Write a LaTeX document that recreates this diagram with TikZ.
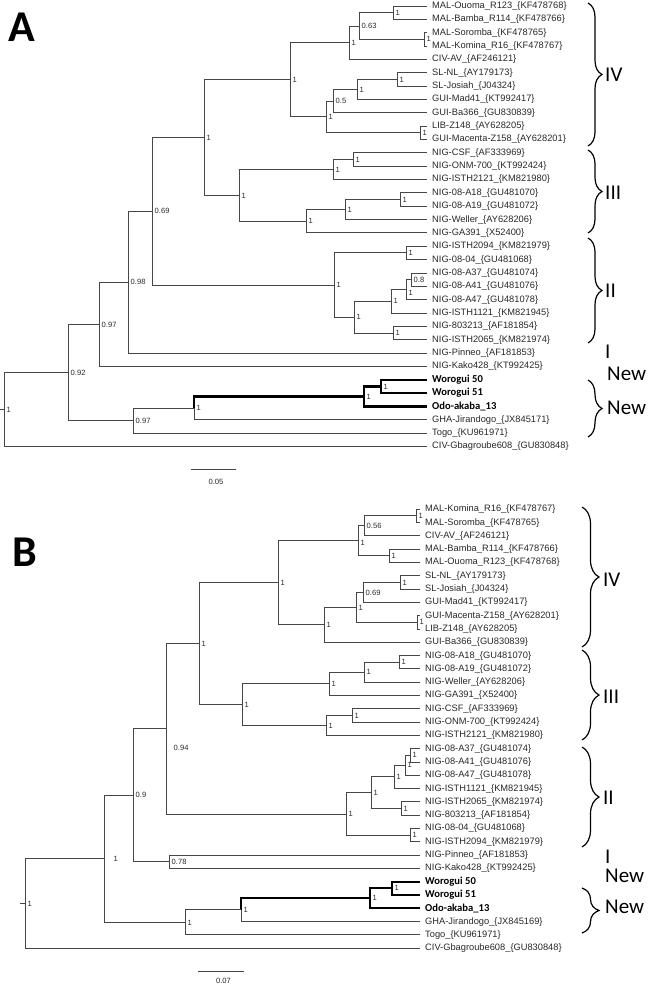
\documentclass[tikz,border=0pt]{standalone}
\usepackage{fontspec}
\setmainfont{Liberation Sans}
\newfontfamily\carlito{Carlito}
\usetikzlibrary{decorations.pathreplacing}
\definecolor{branchgray}{RGB}{70,70,70}
\definecolor{textgray}{RGB}{40,40,40}

\begin{document}
\begin{tikzpicture}[
    x=1pt, y=-1pt,
    branch/.style={draw=branchgray,line width=1pt},
    boldbranch/.style={draw=black,line width=2.1pt},
    leaf/.style={anchor=west,inner xsep=5pt,inner ysep=0pt,text=textgray,font=\fontsize{9.3}{10}\selectfont},
    newleaf/.style={leaf,text=black,font=\carlito\bfseries\fontsize{10.6}{11}\selectfont},
    sup/.style={anchor=west,inner sep=0pt,xshift=2.5pt,text=textgray,font=\fontsize{7.6}{8}\selectfont},
    clade/.style={decorate,decoration={brace,amplitude=#1},line width=1.2pt},
    cladename/.style={anchor=west,inner sep=0pt,font=\carlito\fontsize{21}{22}\selectfont},
    panel/.style={font=\carlito\bfseries\fontsize{44}{45}\selectfont}
]
    \useasboundingbox (0,0) rectangle (650,985);

    % Panel letters
    \node[panel] (A) at (22,27) {A};
    \node[panel] (B) at (25,552) {B};

    %%%%%%%%%%%%%%%%%%%%%%%%%%%%%%%%%%%% Panel A
    \begin{scope}[y=-13.35pt,yshift=-6pt]
    % Tips
    \node[leaf] (a0) at (427,0) {MAL-Ouoma\_R123\_\{KF478768\}};
    \node[leaf] (a1) at (427,1) {MAL-Bamba\_R114\_\{KF478766\}};
    \node[leaf] (a2) at (427,2) {MAL-Soromba\_\{KF478765\}};
    \node[leaf] (a3) at (427,3) {MAL-Komina\_R16\_\{KF478767\}};
    \node[leaf] (a4) at (427,4) {CIV-AV\_\{AF246121\}};
    \node[leaf] (a5) at (427,5) {SL-NL\_\{AY179173\}};
    \node[leaf] (a6) at (427,6) {SL-Josiah\_\{J04324\}};
    \node[leaf] (a7) at (427,7) {GUI-Mad41\_\{KT992417\}};
    \node[leaf] (a8) at (427,8) {GUI-Ba366\_\{GU830839\}};
    \node[leaf] (a9) at (427,9) {LIB-Z148\_\{AY628205\}};
    \node[leaf] (a10) at (427,10) {GUI-Macenta-Z158\_\{AY628201\}};
    \node[leaf] (a11) at (427,11) {NIG-CSF\_\{AF333969\}};
    \node[leaf] (a12) at (427,12) {NIG-ONM-700\_\{KT992424\}};
    \node[leaf] (a13) at (427,13) {NIG-ISTH2121\_\{KM821980\}};
    \node[leaf] (a14) at (427,14) {NIG-08-A18\_\{GU481070\}};
    \node[leaf] (a15) at (427,15) {NIG-08-A19\_\{GU481072\}};
    \node[leaf] (a16) at (427,16) {NIG-Weller\_\{AY628206\}};
    \node[leaf] (a17) at (427,17) {NIG-GA391\_\{X52400\}};
    \node[leaf] (a18) at (427,18) {NIG-ISTH2094\_\{KM821979\}};
    \node[leaf] (a19) at (427,19) {NIG-08-04\_\{GU481068\}};
    \node[leaf] (a20) at (427,20) {NIG-08-A37\_\{GU481074\}};
    \node[leaf] (a21) at (427,21) {NIG-08-A41\_\{GU481076\}};
    \node[leaf] (a22) at (427,22) {NIG-08-A47\_\{GU481078\}};
    \node[leaf] (a23) at (427,23) {NIG-ISTH1121\_\{KM821945\}};
    \node[leaf] (a24) at (427,24) {NIG-803213\_\{AF181854\}};
    \node[leaf] (a25) at (427,25) {NIG-ISTH2065\_\{KM821974\}};
    \node[leaf] (a26) at (427,26) {NIG-Pinneo\_\{AF181853\}};
    \node[leaf] (a27) at (427,27) {NIG-Kako428\_\{KT992425\}};
    \node[newleaf] (a28) at (427,28) {Worogui 50};
    \node[newleaf] (a29) at (427,29) {Worogui 51};
    \node[newleaf] (a30) at (427,30) {Odo-akaba\_13};
    \node[leaf] (a31) at (427,31) {GHA-Jirandogo\_\{JX845171\}};
    \node[leaf] (a32) at (427,32) {Togo\_\{KU961971\}};
    \node[leaf] (a33) at (427,33) {CIV-Gbagroube608\_\{GU830848\}};

    % Internal nodes
    \coordinate (aOB) at (393,0.5);
    \coordinate (aSK) at (424,2.5);
    \coordinate (a063) at (359,1.5);
    \coordinate (aMC) at (349,2.75);
    \coordinate (aSL) at (397,5.5);
    \coordinate (aSM) at (357,6.25);
    \coordinate (a05) at (333,7.125);
    \coordinate (aLG) at (420,9.5);
    \coordinate (aL4) at (326,8.31);
    \coordinate (aIV) at (290,5.53);
    \coordinate (aCO) at (353,11.5);
    \coordinate (aCI) at (333,12.25);
    \coordinate (aAA) at (400,14.5);
    \coordinate (aAW) at (345,15.25);
    \coordinate (aAG) at (306,16.125);
    \coordinate (aIII) at (239,14.19);
    \coordinate (aI34) at (204,9.86);
    \coordinate (a2094) at (406,18.5);
    \coordinate (a3741) at (411,20.5);
    \coordinate (a47) at (406,21.25);
    \coordinate (a1121) at (391,22.125);
    \coordinate (a2065) at (393,24.5);
    \coordinate (aIIb) at (354,23.31);
    \coordinate (aII) at (334,20.91);
    \coordinate (a069) at (152,15.38);
    \coordinate (a098) at (128,20.69);
    \coordinate (a097) at (99,23.85);
    \coordinate (aWW) at (381,28.5);
    \coordinate (aWO) at (364,29.25);
    \coordinate (aNG) at (194,30.125);
    \coordinate (aN097) at (133,31.06);
    \coordinate (a092) at (68,27.45);
    \coordinate (aRoot) at (4,30.23);
    \coordinate (aStub) at (0,30.23);

    % Branches
    \draw[branch] (aOB) |- (a0.west) (aOB) |- (a1.west);
    \draw[branch] (aSK) |- (a2.west) (aSK) |- (a3.west);
    \draw[branch] (a063) |- (aOB) (a063) |- (aSK);
    \draw[branch] (aMC) |- (a063) (aMC) |- (a4.west);
    \draw[branch] (aSL) |- (a5.west) (aSL) |- (a6.west);
    \draw[branch] (aSM) |- (aSL) (aSM) |- (a7.west);
    \draw[branch] (a05) |- (aSM) (a05) |- (a8.west);
    \draw[branch] (aLG) |- (a9.west) (aLG) |- (a10.west);
    \draw[branch] (aL4) |- (a05) (aL4) |- (aLG);
    \draw[branch] (aIV) |- (aMC) (aIV) |- (aL4);
    \draw[branch] (aCO) |- (a11.west) (aCO) |- (a12.west);
    \draw[branch] (aCI) |- (aCO) (aCI) |- (a13.west);
    \draw[branch] (aAA) |- (a14.west) (aAA) |- (a15.west);
    \draw[branch] (aAW) |- (aAA) (aAW) |- (a16.west);
    \draw[branch] (aAG) |- (aAW) (aAG) |- (a17.west);
    \draw[branch] (aIII) |- (aCI) (aIII) |- (aAG);
    \draw[branch] (aI34) |- (aIV) (aI34) |- (aIII);
    \draw[branch] (a2094) |- (a18.west) (a2094) |- (a19.west);
    \draw[branch] (a3741) |- (a20.west) (a3741) |- (a21.west);
    \draw[branch] (a47) |- (a3741) (a47) |- (a22.west);
    \draw[branch] (a1121) |- (a47) (a1121) |- (a23.west);
    \draw[branch] (a2065) |- (a24.west) (a2065) |- (a25.west);
    \draw[branch] (aIIb) |- (a1121) (aIIb) |- (a2065);
    \draw[branch] (aII) |- (a2094) (aII) |- (aIIb);
    \draw[branch] (a069) |- (aI34) (a069) |- (aII);
    \draw[branch] (a098) |- (a069) (a098) |- (a26.west);
    \draw[branch] (a097) |- (a098) (a097) |- (a27.west);
    \draw[boldbranch] (aWW) |- (a28.west) (aWW) |- (a29.west);
    \draw[boldbranch] (aWO) |- (aWW) (aWO) |- (a30.west);
    \draw[boldbranch] (aNG) |- (aWO);
    \draw[branch] (aNG) |- (a31.west);
    \draw[branch] (aN097) |- (aNG) (aN097) |- (a32.west);
    \draw[branch] (a092) |- (a097) (a092) |- (aN097);
    \draw[branch] (aRoot) |- (a092) (aRoot) |- (a33.west);
    \draw[branch] (aStub) -- (aRoot);

    % Posterior values
    \node[sup] (aOBs) at (aOB) {1};
    \node[sup] (aSKs) at (aSK) {1};
    \node[sup] (a063s) at (a063) {0.63};
    \node[sup] (aMCs) at (aMC) {1};
    \node[sup] (aSLs) at (aSL) {1};
    \node[sup] (aSMs) at (aSM) {1};
    \node[sup] (a05s) at (a05) {0.5};
    \node[sup] (aLGs) at (aLG) {1};
    \node[sup] (aL4s) at (aL4) {1};
    \node[sup] (aIVs) at (aIV) {1};
    \node[sup] (aCOs) at (aCO) {1};
    \node[sup] (aCIs) at (aCI) {1};
    \node[sup] (aAAs) at (aAA) {1};
    \node[sup] (aAWs) at (aAW) {1};
    \node[sup] (aAGs) at (aAG) {1};
    \node[sup] (aIIIs) at (aIII) {1};
    \node[sup] (aI34s) at (aI34) {1};
    \node[sup] (a2094s) at (a2094) {1};
    \node[sup] (a3741s) at (a3741) {0.8};
    \node[sup,yshift=-3pt] (a47s) at (a47) {1};
    \node[sup] (a1121s) at (a1121) {1};
    \node[sup] (a2065s) at (a2065) {1};
    \node[sup] (aIIbs) at (aIIb) {1};
    \node[sup] (aIIs) at (aII) {1};
    \node[sup] (a069s) at (a069) {0.69};
    \node[sup] (a098s) at (a098) {0.98};
    \node[sup] (a097s) at (a097) {0.97};
    \node[sup] (aWWs) at (aWW) {1};
    \node[sup] (aWOs) at (aWO) {1};
    \node[sup] (aNGs) at (aNG) {1};
    \node[sup] (aN097s) at (aN097) {0.97};
    \node[sup] (a092s) at (a092) {0.92};
    \node[sup] (aRoots) at (aRoot) {1};
    \end{scope}

    % Lineages A
    \coordinate (aBr1) at (588,3);    \coordinate (aBr2) at (588,146);
    \coordinate (aBr3) at (588,150);  \coordinate (aBr4) at (588,233);
    \coordinate (aBr5) at (588,238);  \coordinate (aBr6) at (588,343);
    \coordinate (aBr7) at (588,380);  \coordinate (aBr8) at (588,437);
    \draw[clade=14pt] (aBr1) -- (aBr2);
    \draw[clade=14pt] (aBr3) -- (aBr4);
    \draw[clade=14pt] (aBr5) -- (aBr6);
    \draw[clade=14pt] (aBr7) -- (aBr8);
    \node[cladename] (aLIV) at (605,75) {IV};
    \node[cladename] (aLIII) at (605,193) {III};
    \node[cladename] (aLII) at (605,291) {II};
    \node[cladename] (aLI) at (605,352) {I};
    \node[cladename] (aLNew) at (607,374) {New};
    \node[cladename] (aLNew2) at (607,408) {New};

    % Scale A
    \coordinate (aSc1) at (191,469);
    \coordinate (aSc2) at (236,469);
    \draw[branch] (aSc1) -- (aSc2);
    \node[sup,anchor=center,xshift=0pt] (aScl) at (213.5,482) {0.05};

    %%%%%%%%%%%%%%%%%%%%%%%%%%%%%%%%%%%% Panel B
    \begin{scope}[y=-13.3pt,yshift=-509.3pt]
    % Tips
    \node[leaf] (b0) at (420,0) {MAL-Komina\_R16\_\{KF478767\}};
    \node[leaf] (b1) at (420,1) {MAL-Soromba\_\{KF478765\}};
    \node[leaf] (b2) at (420,2) {CIV-AV\_\{AF246121\}};
    \node[leaf] (b3) at (420,3) {MAL-Bamba\_R114\_\{KF478766\}};
    \node[leaf] (b4) at (420,4) {MAL-Ouoma\_R123\_\{KF478768\}};
    \node[leaf] (b5) at (420,5) {SL-NL\_\{AY179173\}};
    \node[leaf] (b6) at (420,6) {SL-Josiah\_\{J04324\}};
    \node[leaf] (b7) at (420,7) {GUI-Mad41\_\{KT992417\}};
    \node[leaf] (b8) at (420,8) {GUI-Macenta-Z158\_\{AY628201\}};
    \node[leaf] (b9) at (420,9) {LIB-Z148\_\{AY628205\}};
    \node[leaf] (b10) at (420,10) {GUI-Ba366\_\{GU830839\}};
    \node[leaf] (b11) at (420,11) {NIG-08-A18\_\{GU481070\}};
    \node[leaf] (b12) at (420,12) {NIG-08-A19\_\{GU481072\}};
    \node[leaf] (b13) at (420,13) {NIG-Weller\_\{AY628206\}};
    \node[leaf] (b14) at (420,14) {NIG-GA391\_\{X52400\}};
    \node[leaf] (b15) at (420,15) {NIG-CSF\_\{AF333969\}};
    \node[leaf] (b16) at (420,16) {NIG-ONM-700\_\{KT992424\}};
    \node[leaf] (b17) at (420,17) {NIG-ISTH2121\_\{KM821980\}};
    \node[leaf] (b18) at (420,18) {NIG-08-A37\_\{GU481074\}};
    \node[leaf] (b19) at (420,19) {NIG-08-A41\_\{GU481076\}};
    \node[leaf] (b20) at (420,20) {NIG-08-A47\_\{GU481078\}};
    \node[leaf] (b21) at (420,21) {NIG-ISTH1121\_\{KM821945\}};
    \node[leaf] (b22) at (420,22) {NIG-ISTH2065\_\{KM821974\}};
    \node[leaf] (b23) at (420,23) {NIG-803213\_\{AF181854\}};
    \node[leaf] (b24) at (420,24) {NIG-08-04\_\{GU481068\}};
    \node[leaf] (b25) at (420,25) {NIG-ISTH2094\_\{KM821979\}};
    \node[leaf] (b26) at (420,26) {NIG-Pinneo\_\{AF181853\}};
    \node[leaf] (b27) at (420,27) {NIG-Kako428\_\{KT992425\}};
    \node[newleaf] (b28) at (420,28) {Worogui 50};
    \node[newleaf] (b29) at (420,29) {Worogui 51};
    \node[newleaf] (b30) at (420,30) {Odo-akaba\_13};
    \node[leaf] (b31) at (420,31) {GHA-Jirandogo\_\{JX845169\}};
    \node[leaf] (b32) at (420,32) {Togo\_\{KU961971\}};
    \node[leaf] (b33) at (420,33) {CIV-Gbagroube608\_\{GU830848\}};

    % Internal nodes
    \coordinate (bKS) at (416,0.5);
    \coordinate (b056) at (364,1.25);
    \coordinate (bBO) at (389,3.5);
    \coordinate (bMAL) at (358,2.375);
    \coordinate (bSL) at (400,5.5);
    \coordinate (b069) at (363,6.25);
    \coordinate (bML) at (417,8.5);
    \coordinate (bSLM) at (356,7.375);
    \coordinate (bSLB) at (324,8.69);
    \coordinate (bIV) at (278,5.53);
    \coordinate (bAA) at (399,11.5);
    \coordinate (bAW) at (364,12.25);
    \coordinate (bAG) at (329,13.125);
    \coordinate (bCO) at (352,15.5);
    \coordinate (bCI) at (326,16.25);
    \coordinate (bIII) at (242,14.69);
    \coordinate (bIV3) at (199,10.11);
    \coordinate (b3741) at (410,18.5);
    \coordinate (b47) at (405,19.25);
    \coordinate (b1121) at (394,20.125);
    \coordinate (b2065) at (401,22.5);
    \coordinate (bIIa) at (371,21.31);
    \coordinate (b0804) at (410,24.5);
    \coordinate (bII) at (346,22.91);
    \coordinate (b094) at (166,16.51);
    \coordinate (b078) at (169,26.5);
    \coordinate (b09) at (133,21.5);
    \coordinate (bWW) at (392,28.5);
    \coordinate (bWO) at (370,29.25);
    \coordinate (bNG) at (241,30.125);
    \coordinate (bN1) at (185,31.06);
    \coordinate (b1r) at (104,26.28);
    \coordinate (bRoot) at (25,29.64);
    \coordinate (bStub) at (20,29.64);

    % Branches
    \draw[branch] (bKS) |- (b0.west) (bKS) |- (b1.west);
    \draw[branch] (b056) |- (bKS) (b056) |- (b2.west);
    \draw[branch] (bBO) |- (b3.west) (bBO) |- (b4.west);
    \draw[branch] (bMAL) |- (b056) (bMAL) |- (bBO);
    \draw[branch] (bSL) |- (b5.west) (bSL) |- (b6.west);
    \draw[branch] (b069) |- (bSL) (b069) |- (b7.west);
    \draw[branch] (bML) |- (b8.west) (bML) |- (b9.west);
    \draw[branch] (bSLM) |- (b069) (bSLM) |- (bML);
    \draw[branch] (bSLB) |- (bSLM) (bSLB) |- (b10.west);
    \draw[branch] (bIV) |- (bMAL) (bIV) |- (bSLB);
    \draw[branch] (bAA) |- (b11.west) (bAA) |- (b12.west);
    \draw[branch] (bAW) |- (bAA) (bAW) |- (b13.west);
    \draw[branch] (bAG) |- (bAW) (bAG) |- (b14.west);
    \draw[branch] (bCO) |- (b15.west) (bCO) |- (b16.west);
    \draw[branch] (bCI) |- (bCO) (bCI) |- (b17.west);
    \draw[branch] (bIII) |- (bAG) (bIII) |- (bCI);
    \draw[branch] (bIV3) |- (bIV) (bIV3) |- (bIII);
    \draw[branch] (b3741) |- (b18.west) (b3741) |- (b19.west);
    \draw[branch] (b47) |- (b3741) (b47) |- (b20.west);
    \draw[branch] (b1121) |- (b47) (b1121) |- (b21.west);
    \draw[branch] (b2065) |- (b22.west) (b2065) |- (b23.west);
    \draw[branch] (bIIa) |- (b1121) (bIIa) |- (b2065);
    \draw[branch] (b0804) |- (b24.west) (b0804) |- (b25.west);
    \draw[branch] (bII) |- (bIIa) (bII) |- (b0804);
    \draw[branch] (b094) |- (bIV3) (b094) |- (bII);
    \draw[branch] (b078) |- (b26.west) (b078) |- (b27.west);
    \draw[branch] (b09) |- (b094) (b09) |- (b078);
    \draw[boldbranch] (bWW) |- (b28.west) (bWW) |- (b29.west);
    \draw[boldbranch] (bWO) |- (bWW) (bWO) |- (b30.west);
    \draw[boldbranch] (bNG) |- (bWO);
    \draw[branch] (bNG) |- (b31.west);
    \draw[branch] (bN1) |- (bNG) (bN1) |- (b32.west);
    \draw[branch] (b1r) |- (b09) (b1r) |- (bN1);
    \draw[branch] (bRoot) |- (b1r) (bRoot) |- (b33.west);
    \draw[branch] (bStub) -- (bRoot);

    % Posterior values
    \node[sup] (bKSs) at (bKS) {1};
    \node[sup] (b056s) at (b056) {0.56};
    \node[sup] (bBOs) at (bBO) {1};
    \node[sup,yshift=-2pt] (bMALs) at (bMAL) {1};
    \node[sup] (bSLs) at (bSL) {1};
    \node[sup] (b069s) at (b069) {0.69};
    \node[sup] (bMLs) at (bML) {1};
    \node[sup] (bSLMs) at (bSLM) {1};
    \node[sup] (bSLBs) at (bSLB) {1};
    \node[sup] (bIVs) at (bIV) {1};
    \node[sup] (bAAs) at (bAA) {1};
    \node[sup] (bAWs) at (bAW) {1};
    \node[sup] (bAGs) at (bAG) {1};
    \node[sup] (bCOs) at (bCO) {1};
    \node[sup] (bCIs) at (bCI) {1};
    \node[sup] (bIIIs) at (bIII) {1};
    \node[sup] (bIV3s) at (bIV3) {1};
    \node[sup] (b3741s) at (b3741) {1};
    \node[sup] (b47s) at (b47) {1};
    \node[sup] (b1121s) at (b1121) {1};
    \node[sup] (b2065s) at (b2065) {1};
    \node[sup] (bIIas) at (bIIa) {1};
    \node[sup] (b0804s) at (b0804) {1};
    \node[sup] (bIIs) at (bII) {1};
    \node[sup,xshift=5pt,yshift=-19pt] (b094s) at (b094) {0.94};
    \node[sup] (b078s) at (b078) {0.78};
    \node[sup] (b09s) at (b09) {0.9};
    \node[sup] (bWWs) at (bWW) {1};
    \node[sup] (bWOs) at (bWO) {1};
    \node[sup] (bNGs) at (bNG) {1};
    \node[sup] (bN1s) at (bN1) {1};
    \node[sup,xshift=7pt] (b1rs) at (b1r) {1};
    \node[sup] (bRoots) at (bRoot) {1};
    \end{scope}

    % Lineages B
    \coordinate (bBr1) at (582,507);  \coordinate (bBr2) at (582,647);
    \coordinate (bBr3) at (582,650);  \coordinate (bBr4) at (582,740);
    \coordinate (bBr5) at (582,747);  \coordinate (bBr6) at (582,847);
    \coordinate (bBr7) at (582,888);  \coordinate (bBr8) at (582,933);
    \draw[clade=17pt] (bBr1) -- (bBr2);
    \draw[clade=17pt] (bBr3) -- (bBr4);
    \draw[clade=17pt] (bBr5) -- (bBr6);
    \draw[clade=17pt] (bBr7) -- (bBr8);
    \node[cladename] (bLIV) at (603,580) {IV};
    \node[cladename] (bLIII) at (603,697) {III};
    \node[cladename] (bLII) at (603,798) {II};
    \node[cladename] (bLI) at (605,857) {I};
    \node[cladename] (bLNew) at (605,876) {New};
    \node[cladename] (bLNew2) at (605,907) {New};

    % Scale B
    \coordinate (bSc1) at (198,971);
    \coordinate (bSc2) at (244,971);
    \draw[branch] (bSc1) -- (bSc2);
    \node[sup,anchor=center,xshift=0pt] (bScl) at (221,980.5) {0.07};
\end{tikzpicture}
\end{document}
